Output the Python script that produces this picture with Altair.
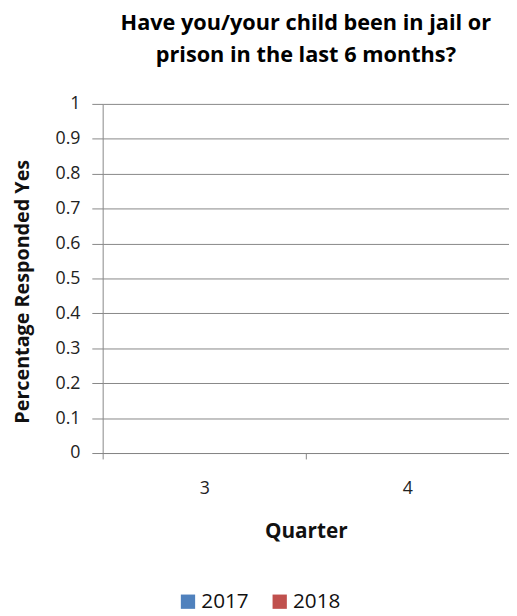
import altair as alt
import pandas as pd

quarters = ["3", "4"]
years = ["2017", "2018"]
values_2017 = [0, 0]
values_2018 = [0, 0]
colors = ["#4F81BD", "#C0504D"]
y_ticks = [0, 0.1, 0.2, 0.3, 0.4, 0.5, 0.6, 0.7, 0.8, 0.9, 1]

rows = []
for q, v in zip(quarters, values_2017):
    rows.append({"Quarter": q, "Year": "2017", "Value": v})
for q, v in zip(quarters, values_2018):
    rows.append({"Quarter": q, "Year": "2018", "Value": v})
df = pd.DataFrame(rows)

FONT = "Open Sans"
GRAY = "#868686"

chart = alt.Chart(df).mark_bar().encode(
    x=alt.X("Quarter:N", sort=quarters,
            scale=alt.Scale(paddingInner=0, paddingOuter=0),
            axis=alt.Axis(title="Quarter", labelAngle=0, tickBand="extent",
                          domainColor=GRAY, tickColor=GRAY, tickSize=6,
                          labelPadding=21, labelFontSize=18, labelFont=FONT,
                          labelColor="#222222", titleFont=FONT, titleFontSize=21,
                          titleFontWeight=700, titlePadding=24, titleColor="#111111",
                          grid=False)),
    xOffset=alt.XOffset("Year:N", sort=years),
    y=alt.Y("Value:Q", scale=alt.Scale(domain=[0, 1], nice=False),
            axis=alt.Axis(title="Percentage Responded Yes", values=y_ticks,
                          format=".1~f", domainColor=GRAY, tickColor=GRAY,
                          gridColor=GRAY, tickSize=11, labelPadding=12,
                          labelFontSize=18, labelFont=FONT, labelColor="#222222",
                          titleFont=FONT, titleFontSize=20, titleFontWeight=700,
                          titleColor="#111111", titleX=-81, titleY=190,
                          titleBaseline="middle", titleAngle=270)),
    color=alt.Color("Year:N", sort=years,
                    scale=alt.Scale(domain=years, range=colors),
                    legend=alt.Legend(title=None, orient="none", direction="horizontal",
                                      legendX=76, legendY=494, padding=0,
                                      symbolType="square",
                                      symbolSize=210, symbolStrokeWidth=0,
                                      labelFont=FONT, labelFontSize=21,
                                      labelColor="#111111", columnPadding=20,
                                      labelOffset=3)),
).properties(
    width=412,
    height=354,
    title=alt.TitleParams(
        text=["Have you/your child been in jail or", "prison in the last 6 months?"],
        font=FONT, fontSize=22, fontWeight=700, color="#000000",
        anchor="middle", lineHeight=33, offset=28,
    ),
    autosize=alt.AutoSizeParams(type="none"),
    padding={"left": 96, "top": 93, "right": 0, "bottom": 160},
).configure_view(stroke=None)

chart.save("out.html", embed_options={"renderer": "svg", "actions": False})
